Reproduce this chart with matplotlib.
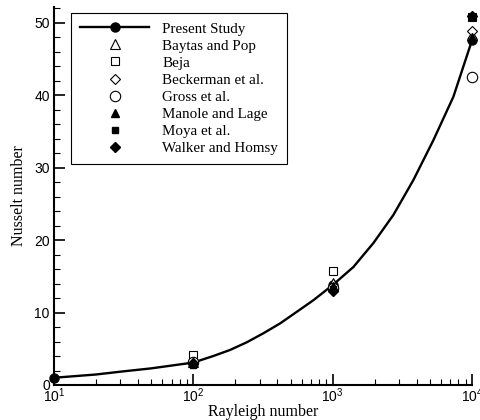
import numpy as np
import matplotlib
matplotlib.use('Agg')
import matplotlib.pyplot as plt
from matplotlib.ticker import LogLocator, MultipleLocator, NullFormatter

plt.rcParams['font.family'] = ['Liberation Sans', 'DejaVu Sans']
plt.rcParams['mathtext.default'] = 'regular'

# Rayleigh numbers of the benchmark points
ra = [1e2, 1e3, 1e4]

# present study (marker points)
ra_present = [1e1, 1e2, 1e3, 1e4]
nu_present = [1.0, 3.1, 13.8, 47.6]

# present study curve
ra_curve = [10, 20, 30, 50, 100, 139, 183, 242, 318, 419, 552, 726, 1000,
            1409, 1960, 2730, 3795, 5280, 7350, 10000]
nu_curve = [1.0, 1.45, 1.84, 2.3, 3.1, 4.0, 4.83, 5.9, 7.14, 8.5, 10.1, 11.7, 13.8,
            16.3, 19.6, 23.5, 28.3, 33.8, 39.8, 47.6]

nu_baytas = [3.16, 14.06, 48.33]
nu_beja = [4.2, 15.8, 50.8]
nu_beckerman = [3.113, np.nan, 48.9]
nu_gross = [3.141, 13.448, 42.583]
nu_manole = [3.118, 13.637, 48.117]
nu_moya = [2.801, 13.3, 50.8]
nu_walker = [3.097, 12.96, 51.0]

fig = plt.figure(figsize=(4.81, 4.20), dpi=100)
ax = fig.add_axes([54 / 481, 35 / 420, 418 / 481, 378 / 420])

ax.plot(ra_curve, nu_curve, '-', color='black', lw=1.7, zorder=3,
        solid_joinstyle='round', clip_on=False)
h_present, = ax.plot(ra_present, nu_present, 'o', color='black', ms=6.5, zorder=4,
                     clip_on=False)
h_line, = ax.plot([], [], '-o', color='black', lw=1.7, ms=6.5)

open_kw = dict(linestyle='none', mfc='white', mec='black', mew=0.8, zorder=5, clip_on=False)
fill_kw = dict(linestyle='none', color='black', zorder=6, clip_on=False)
h1, = ax.plot(ra, nu_baytas, '^', ms=6.5, **open_kw)
h2, = ax.plot(ra, nu_beja, 's', ms=5.5, **open_kw)
h3, = ax.plot(ra, nu_beckerman, 'D', ms=5.5, **open_kw)
h4, = ax.plot(ra, nu_gross, 'o', ms=7.5, **open_kw)
h5, = ax.plot(ra, nu_manole, '^', ms=5.5, **fill_kw)
h6, = ax.plot(ra, nu_moya, 's', ms=5.0, **fill_kw)
h7, = ax.plot(ra, nu_walker, 'D', ms=5.0, **fill_kw)

ax.set_xscale('log')
ax.set_xlim(10, 1e4)
ax.set_ylim(0, 52.2)
ax.xaxis.set_major_locator(LogLocator(base=10, numticks=10))
ax.xaxis.set_minor_locator(LogLocator(base=10, subs=np.arange(2, 10), numticks=10))
ax.xaxis.set_minor_formatter(NullFormatter())
ax.yaxis.set_major_locator(MultipleLocator(10))
ax.yaxis.set_minor_locator(MultipleLocator(2))

for side in ['top', 'right']:
    ax.spines[side].set_visible(False)
for side in ['left', 'bottom']:
    ax.spines[side].set_linewidth(1.5)

ax.tick_params(which='major', direction='in', length=8, width=1.2, labelsize=10, pad=3)
ax.tick_params(which='minor', direction='in', length=4, width=0.8)
ax.tick_params(axis='x', which='major', pad=1)

ax.set_xlabel('Rayleigh number', family='Liberation Serif', fontsize=11.5, labelpad=-1)
ax.set_ylabel('Nusselt number', family='Liberation Serif', fontsize=11.5, labelpad=5)

leg = ax.legend([h_line, h1, h2, h3, h4, h5, h6, h7],
                ['Present Study', 'Baytas and Pop', 'Beja', 'Beckerman et al.',
                 'Gross et al.', 'Manole and Lage', 'Moya et al.', 'Walker and Homsy'],
                loc='upper left', bbox_to_anchor=(71 / 481, 1 - 13 / 420),
                bbox_transform=fig.transFigure,
                prop={'family': 'Liberation Serif', 'size': 10.8},
                handlelength=4.6, handletextpad=0.9, labelspacing=0.24,
                borderpad=0.6, borderaxespad=0, fancybox=False, frameon=True,
                edgecolor='black', framealpha=1)
leg.get_frame().set_linewidth(0.8)

plt.savefig('out.png', dpi=100)
plt.close()
